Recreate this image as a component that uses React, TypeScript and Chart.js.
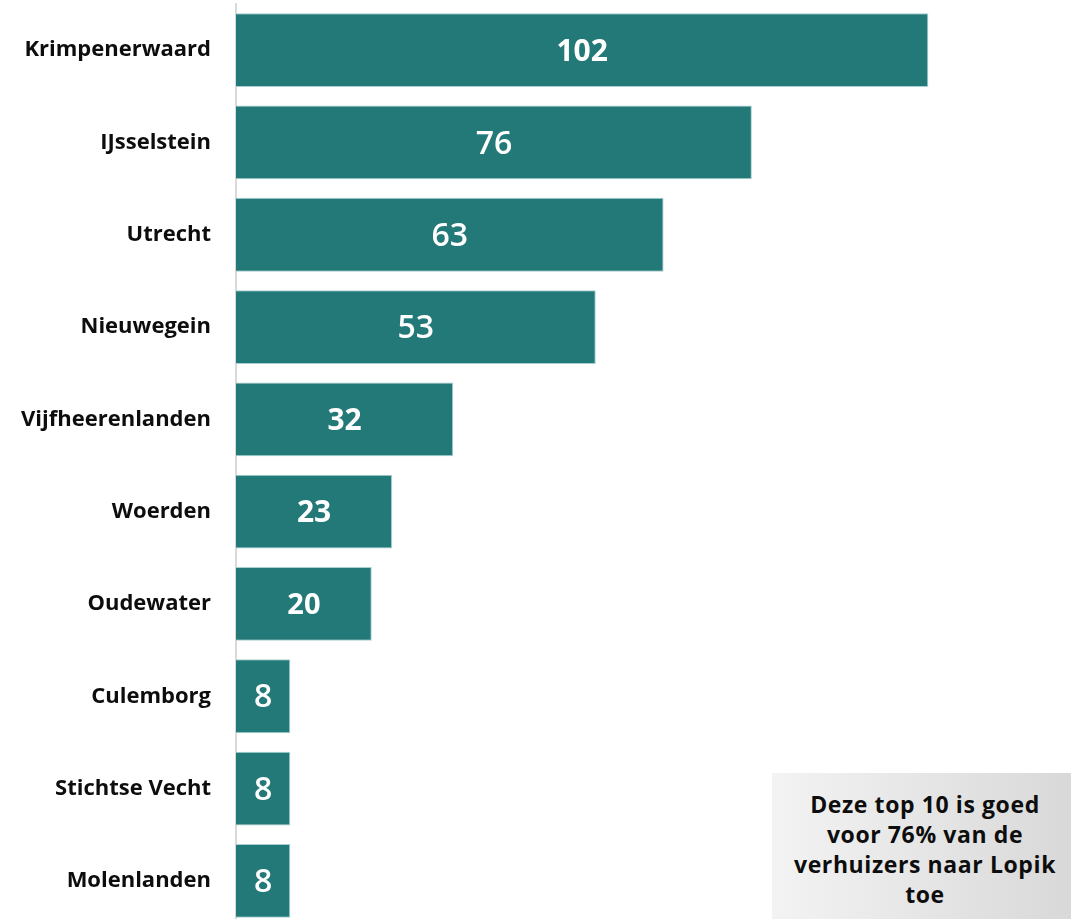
import React, { useEffect, useRef } from "react";
import { Chart, registerables } from "chart.js";

Chart.register(...registerables);

const categories = [
  "Krimpenerwaard",
  "IJsselstein",
  "Utrecht",
  "Nieuwegein",
  "Vijfheerenlanden",
  "Woerden",
  "Oudewater",
  "Culemborg",
  "Stichtse Vecht",
  "Molenlanden",
];
const values = [102, 76, 63, 53, 32, 23, 20, 8, 8, 8];
const labelSizes = [30, 32, 32, 32, 30, 30, 29, 32, 32, 32];
const labelWeights = ["700", "600", "600", "600", "700", "700", "700", "600", "600", "600"];
const noteLines = ["Deze top 10 is goed", "voor 76% van de", "verhuizers naar Lopik", "toe"];

const BAR_COLOR = "#237878";
const FONT = "'Open Sans', 'DejaVu Sans', sans-serif";

const valueLabelPlugin = {
  id: "valueLabels",
  afterDatasetsDraw(chart: any) {
    const ctx = chart.ctx;
    const meta = chart.getDatasetMeta(0);
    ctx.save();
    ctx.fillStyle = "#ffffff";
    ctx.textAlign = "center";
    ctx.textBaseline = "middle";
    meta.data.forEach((bar: any, i: number) => {
      const cx = (bar.x + bar.base) / 2;
      ctx.font = `${labelWeights[i]} ${labelSizes[i]}px ${FONT}`;
      ctx.fillText(String(values[i]), cx, bar.y + 2);
    });
    ctx.restore();
  },
};

export default function App() {
  const canvasRef = useRef<HTMLCanvasElement | null>(null);

  useEffect(() => {
    if (!canvasRef.current) return;
    const chart = new Chart(canvasRef.current, {
      type: "bar",
      data: {
        labels: categories,
        datasets: [
          {
            data: values,
            backgroundColor: BAR_COLOR,
            borderColor: "#a8d0d0",
            borderWidth: 1,
            barPercentage: 0.8,
            categoryPercentage: 1,
          },
        ],
      },
      options: {
        indexAxis: "y",
        animation: false,
        responsive: false,
        maintainAspectRatio: false,
        layout: { padding: { top: 4, bottom: 4, left: 0, right: 20.5 } },
        plugins: {
          legend: { display: false },
          tooltip: { enabled: false },
          title: { display: false },
        },
        scales: {
          x: {
            display: false,
            min: 0,
            max: 120,
          },
          y: {
            z: 1,
            grid: { display: false, drawTicks: false },
            border: { display: true, color: "#d9d9d9", width: 2 },
            ticks: {
              padding: 25,
              color: "#0d0d0d",
              font: { family: FONT, size: 22, weight: "bold" },
            },
            afterFit(scale: any) {
              scale.width = 236;
              scale.paddingTop = 0;
              scale.paddingBottom = 0;
            },
          },
        },
      },
      plugins: [valueLabelPlugin],
    });
    return () => chart.destroy();
  }, []);

  return (
    <div
      style={{
        position: "fixed",
        left: 0,
        top: 0,
        width: 1071,
        height: 919,
        overflow: "hidden",
        background: "#ffffff",
      }}
    >
      <canvas ref={canvasRef} width={1071} height={931} style={{ display: "block" }} />
      <div
        style={{
          position: "absolute",
          left: 772,
          top: 773,
          width: 306,
          height: 160,
          background: "linear-gradient(90deg, #f3f3f3 0%, #d8d8d8 100%)",
          boxSizing: "border-box",
          paddingTop: 16,
          textAlign: "center",
          fontFamily: FONT,
          fontWeight: 700,
          fontSize: 23,
          letterSpacing: "0.6px",
          lineHeight: "30px",
          color: "#0d0d0d",
        }}
      >
        {noteLines.map((l, i) => (
          <div key={i} style={{ whiteSpace: "nowrap" }}>
            {l}
          </div>
        ))}
      </div>
    </div>
  );
}
